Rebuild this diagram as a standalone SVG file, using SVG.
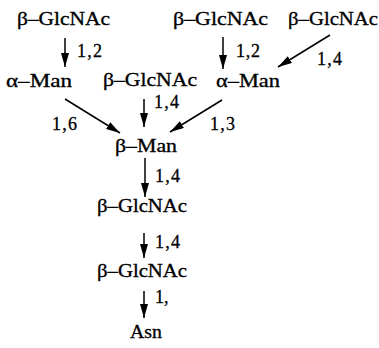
<svg xmlns="http://www.w3.org/2000/svg" width="379" height="348" viewBox="0 0 379 348">
<style>
text{font-family:"Liberation Serif","DejaVu Serif",serif;font-size:18px;fill:#000;stroke:#000;stroke-width:0.3}
.lbl{font-size:18px}
.e{stroke:#000;stroke-width:1.5;fill:none;marker-end:url(#ah)}
</style>
<defs>
<marker id="ah" markerUnits="userSpaceOnUse" markerWidth="15" markerHeight="8" refX="14" refY="4" orient="auto">
<path d="M0,0 L14,4 L0,8 Z" fill="#000"/>
</marker>
</defs>
<rect width="379" height="348" fill="#fff"/>
<g id="g1"><text x="17" y="25" textLength="93" lengthAdjust="spacingAndGlyphs">β–GlcNAc</text></g>
<g id="g2"><text x="173" y="25" textLength="95" lengthAdjust="spacingAndGlyphs">β–GlcNAc</text></g>
<g id="g3"><text x="288" y="25" textLength="90" lengthAdjust="spacingAndGlyphs">β–GlcNAc</text></g>
<g id="m1"><text x="6" y="87" textLength="66" lengthAdjust="spacingAndGlyphs">α–Man</text></g>
<g id="g4"><text x="103" y="86" textLength="94" lengthAdjust="spacingAndGlyphs">β–GlcNAc</text></g>
<g id="m2"><text x="216" y="87" textLength="64" lengthAdjust="spacingAndGlyphs">α–Man</text></g>
<g id="m3"><text x="115" y="152" textLength="62" lengthAdjust="spacingAndGlyphs">β–Man</text></g>
<g id="g5"><text x="97" y="212" textLength="90" lengthAdjust="spacingAndGlyphs">β–GlcNAc</text></g>
<g id="g6"><text x="97" y="277" textLength="90" lengthAdjust="spacingAndGlyphs">β–GlcNAc</text></g>
<g id="asn"><text x="130" y="338" textLength="32" lengthAdjust="spacingAndGlyphs">Asn</text></g>
<g id="connectors">
<line class="e" x1="65" y1="38" x2="65" y2="67"/>
<line class="e" x1="223" y1="37" x2="223" y2="69"/>
<line class="e" x1="330" y1="35" x2="278" y2="67"/>
<line class="e" x1="65" y1="99" x2="120" y2="133"/>
<line class="e" x1="144" y1="99" x2="144" y2="127"/>
<line class="e" x1="222" y1="100" x2="170" y2="132"/>
<line class="e" x1="145" y1="158" x2="145" y2="197"/>
<line class="e" x1="144" y1="233" x2="144" y2="258"/>
<line class="e" x1="144" y1="291" x2="144" y2="318"/>
<text class="lbl" x="77" y="57" textLength="25">1,2</text>
<text class="lbl" x="236" y="57" textLength="24">1,2</text>
<text class="lbl" x="317" y="65" textLength="25">1,4</text>
<text class="lbl" x="52" y="130" textLength="25">1,6</text>
<text class="lbl" x="154" y="108" textLength="25">1,4</text>
<text class="lbl" x="210" y="130" textLength="25">1,3</text>
<text class="lbl" x="155" y="182" textLength="25">1,4</text>
<text class="lbl" x="155" y="248" textLength="25">1,4</text>
<text class="lbl" x="155" y="303">1,</text>
</g>
</svg>
